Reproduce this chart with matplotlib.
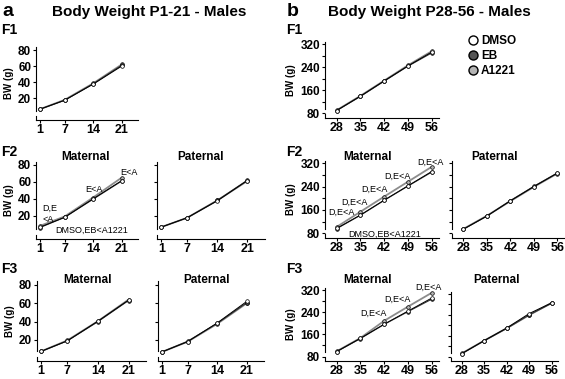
import matplotlib
matplotlib.use("Agg")
import matplotlib.pyplot as plt
from matplotlib.lines import Line2D
from matplotlib.ticker import FixedLocator, FuncFormatter

plt.rcParams['font.family'] = ['Liberation Sans', 'DejaVu Sans']

# ---- data ----
groups = ['DMSO', 'EB', 'A1221']
days_pre = [1, 7, 14, 21]
days_post = [28, 35, 42, 49, 56]

f1_pre = {'DMSO': [6.5, 17.5, 37.5, 60], 'EB': [6.5, 17.5, 38, 61], 'A1221': [6.5, 18, 38.5, 62]}
f2_mat_pre = {'DMSO': [6.5, 18, 40, 61.5], 'EB': [6, 18, 39.5, 61], 'A1221': [8, 19, 41.5, 65]}
f2_pat_pre = {'DMSO': [6.5, 17.5, 37.5, 61.5], 'EB': [6.5, 17.5, 38, 62], 'A1221': [6.5, 17.5, 38, 61]}
f3_mat_pre = {'DMSO': [7.5, 19, 40.5, 63.5], 'EB': [7.5, 19, 40, 63], 'A1221': [7.5, 19.5, 40.5, 64]}
f3_pat_pre = {'DMSO': [7, 18, 38.5, 62], 'EB': [7, 18.5, 38, 60.5], 'A1221': [7, 18, 37.5, 60]}

f1_post = {'DMSO': [90, 140, 193, 245, 293], 'EB': [90, 139, 192, 244, 290], 'A1221': [91, 141, 194, 247, 296]}
f2_mat_post = {'DMSO': [97, 143, 194, 243, 292], 'EB': [96, 142, 193, 242, 290], 'A1221': [102, 154, 206, 257, 308]}
f2_pat_post = {'DMSO': [94, 139, 191, 240, 286], 'EB': [94, 139, 192, 241, 287], 'A1221': [95, 140, 190, 239, 285]}
f3_mat_post = {'DMSO': [98, 146, 197, 244, 291], 'EB': [98, 145, 196, 242, 287], 'A1221': [99, 147, 209, 260, 310]}
f3_pat_post = {'DMSO': [92, 142, 190, 245, 286], 'EB': [92, 141, 188, 240, 284], 'A1221': [93, 142, 189, 239, 286]}

yt_pre = [20, 40, 60, 80]
yt_post = [80, 120, 160, 200, 240, 280, 320]
yl_post = [80, 160, 240, 320]

# ---- style ----
face = {'DMSO': 'white', 'EB': '#555555', 'A1221': '#b4b4b4'}
line = {'DMSO': 'black', 'EB': '#333333', 'A1221': '#8c8c8c'}
lwid = {'DMSO': 0.7, 'EB': 0.8, 'A1221': 1.3}

W, H = 565, 379
fig = plt.figure(figsize=(W / 100, H / 100), dpi=100)


def ftext(x, y, s, **kw):
    kw.setdefault('va', 'center')
    fig.text(x / W, 1 - y / H, s, **kw)


def panel(box, xlim, ylim, days, data, yticks, ylabels, show_ylab):
    l, t, r, b = box
    ax = fig.add_axes([l / W, 1 - b / H, (r - l) / W, (b - t) / H])
    for g in ['A1221', 'EB', 'DMSO']:
        ax.plot(days, data[g], color=line[g], lw=lwid[g], marker='o', ms=2.6,
                mfc=face[g], mec='black', mew=0.5)
    ax.set_xlim(xlim)
    ax.set_ylim(ylim)
    ax.set_xticks(days)
    ax.tick_params(axis='x', labelsize=9, length=2.5, width=0.8, pad=0.5)
    ax.yaxis.set_major_locator(FixedLocator(yticks))
    if show_ylab:
        ax.yaxis.set_major_formatter(FuncFormatter(lambda v, p: '%d' % v if v in ylabels else ''))
    else:
        ax.set_yticklabels([])
    ax.tick_params(axis='y', labelsize=8.5, length=2.5, width=0.8, pad=1)
    for lab in ax.get_xticklabels() + ax.get_yticklabels():
        lab.set_fontweight('bold')
    ax.spines['top'].set_visible(False)
    ax.spines['right'].set_visible(False)
    ax.spines['left'].set_linewidth(0.8)
    ax.spines['bottom'].set_linewidth(0.8)
    y0, y1 = ylim
    ax.spines['left'].set_bounds(y0 + 0.12 * (y1 - y0), y1)
    ax.plot([0, 0], [0, 0.05], transform=ax.transAxes, color='black', lw=0.8, clip_on=False)
    ax.patch.set_alpha(0)
    if show_ylab:
        ax.set_ylabel('BW (g)', fontsize=7, fontweight='bold', labelpad=3)
    return ax


pre_x = (0, 25)
post_x = (24.5, 58)

panel((36, 46.8, 138, 120), pre_x, (-7, 84), days_pre, f1_pre, yt_pre, yt_pre, True)
a2m = panel((36, 161.6, 138, 238.5), pre_x, (-7, 84), days_pre, f2_mat_pre, yt_pre, yt_pre, True)
panel((157, 161.6, 264.5, 238.5), pre_x, (-7, 84), days_pre, f2_pat_pre, yt_pre, yt_pre, False)
panel((36.7, 281.3, 146, 361), pre_x, (-3, 84), days_pre, f3_mat_pre, yt_pre, yt_pre, True)
panel((158, 281.3, 263.6, 361), pre_x, (-3, 84), days_pre, f3_pat_pre, yt_pre, yt_pre, False)

panel((324.8, 42, 438.5, 118), post_x, (64, 328), days_post, f1_post, yt_post, yl_post, True)
b2m = panel((324.8, 161, 438.5, 238), post_x, (64, 328), days_post, f2_mat_post, yt_post, yl_post, True)
panel((451.5, 161, 564, 238), post_x, (64, 328), days_post, f2_pat_post, yt_post, yl_post, False)
b3m = panel((324.8, 287.8, 438.5, 361), post_x, (64, 328), days_post, f3_mat_post, yt_post, yl_post, True)
panel((450.5, 291.8, 558.1, 361), post_x, (64, 328), days_post, f3_pat_post, yt_post, yl_post, False)

# significance notes
ann = dict(fontsize=6.5, ha='center', va='center')
a2m.text(1.5, 29, 'D,E', ha='left', va='center', fontsize=6.5)
a2m.text(1.5, 16, '<A', ha='left', va='center', fontsize=6.5)
a2m.text(14.1, 50.5, 'E<A', **ann)
a2m.text(22.9, 71.5, 'E<A', **ann, clip_on=False)
a2m.text(13.7, 3, 'DMSO,EB<A1221', **ann)

for x, y in [(29.3, 153), (33.1, 185), (39, 232), (45.8, 274), (55.5, 324)]:
    b2m.text(x, y, 'D,E<A', **ann, clip_on=False)
b2m.text(42.2, 78, 'DMSO,EB<A1221', **ann)
for x, y in [(38.8, 237), (45.8, 287.5), (54.9, 331)]:
    b3m.text(x, y, 'D,E<A', **ann, clip_on=False)

# headings
ftext(2, 12, 'a', fontsize=14, fontweight='bold', ha='left')
ftext(287, 12, 'b', fontsize=14, fontweight='bold', ha='left')
ftext(149, 12, 'Body Weight P1-21 - Males', fontsize=11, fontweight='bold', ha='center')
ftext(429, 12, 'Body Weight P28-56 - Males', fontsize=11, fontweight='bold', ha='center')
for x in (1, 286):
    ftext(x, 30, 'F1', fontsize=10, fontweight='bold', ha='left')
    ftext(x, 152, 'F2', fontsize=10, fontweight='bold', ha='left')
    ftext(x, 269, 'F3', fontsize=10, fontweight='bold', ha='left')
for x, y, s in [(86, 157, 'Maternal'), (200, 157, 'Paternal'), (367, 157, 'Maternal'), (495, 157, 'Paternal'),
                (87, 280, 'Maternal'), (207, 280, 'Paternal'), (367, 280, 'Maternal'), (496, 280, 'Paternal')]:
    ftext(x, y, s, fontsize=8.5, fontweight='bold', ha='center')

handles = [Line2D([], [], ls='', marker='o', ms=6.5, mfc=face[g], mec='black', mew=1.0) for g in groups]
fig.legend(handles, groups, loc='upper left', bbox_to_anchor=(468 / W, 1 - 35 / H), frameon=False,
           prop={'weight': 'bold', 'size': 8.5}, handlelength=0.8, handletextpad=0.3,
           labelspacing=0.25, borderpad=0, borderaxespad=0)

fig.savefig('out.png', dpi=100)
